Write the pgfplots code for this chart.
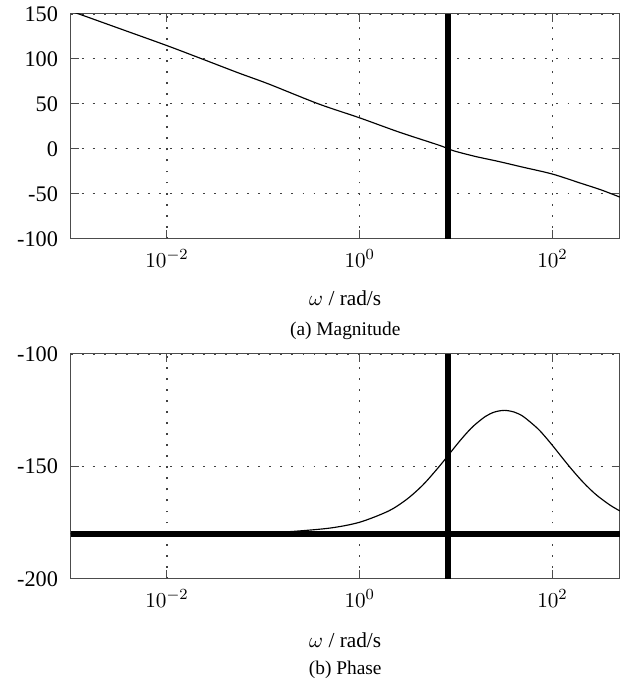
\documentclass[border={5.5pt 0pt 6pt 0pt}]{standalone}
\usepackage{fontspec}
\setmainfont{Liberation Serif}
\usepackage{pgfplots}
\pgfplotsset{compat=1.18}

\begin{document}
\begin{tikzpicture}
\begin{axis}[name=mag, at={(0,0)},
    xmode=log,
    scale only axis,
    width=283.5pt, height=116pt,
    xmin=1e-3, xmax=500,
    ymin=-100, ymax=150,
    xtick={0.01,1,100},
    minor xtick={},
    ytick={-100,-50,0,50,100,150},
    yticklabels={-100,-50,0,50,100,150},
    xmajorgrids=true, ymajorgrids=true,
    major grid style={black!75, line width=0.55pt, dash pattern=on 1pt off 4.7pt},
    axis line style={black!70, line width=0.5pt},
    tick style={black!70, line width=0.5pt},
    xticklabel style={font=\fontsize{11}{13}\selectfont, yshift=-2pt},
    yticklabel style={font=\fontsize{11.5}{13}\selectfont, xshift=-3pt},
    xlabel={$\omega$ / rad/s},
    xlabel style={font=\fontsize{11}{13}\selectfont, anchor=center, at={(axis description cs:0.5,-0.264)}}]
\addplot[black, line width=0.6pt, smooth] coordinates {
 (0.001,153) (0.00122,150) (0.00316,134.1) (0.01,114.8) (0.0231,100)
 (0.0553,84.4) (0.113,72.2) (0.373,50) (1,34.4) (2.56,18.6) (6.61,4.1)
 (8.28,0) (10,-3) (15.85,-8.5) (27.4,-14) (50.1,-20.6) (100,-28.1)
 (199.5,-38.5) (316,-45.5) (500,-53.7)};
\addplot[black, line width=3pt] coordinates {(8.3,-100) (8.3,150)};
\end{axis}
\node[font=\fontsize{10}{12}\selectfont] at ([yshift=-47.5pt]mag.south) {(a) Magnitude};

\begin{axis}[name=pha, at={(0,-175.5pt)},
    xmode=log,
    scale only axis,
    width=283.5pt, height=116pt,
    xmin=1e-3, xmax=500,
    ymin=-200, ymax=-100,
    xtick={0.01,1,100},
    minor xtick={},
    ytick={-200,-150,-100},
    yticklabels={-200,-150,-100},
    xmajorgrids=true, ymajorgrids=true,
    major grid style={black!75, line width=0.55pt, dash pattern=on 1pt off 4.7pt},
    axis line style={black!70, line width=0.5pt},
    tick style={black!70, line width=0.5pt},
    xticklabel style={font=\fontsize{11}{13}\selectfont, yshift=-2pt},
    yticklabel style={font=\fontsize{11.5}{13}\selectfont, xshift=-3pt},
    xlabel={$\omega$ / rad/s},
    xlabel style={font=\fontsize{11}{13}\selectfont, anchor=center, at={(axis description cs:0.5,-0.274)}}]
\addplot[black, line width=0.6pt, smooth] coordinates {
 (0.001,-180) (0.01,-179.95) (0.1,-179.48) (0.2,-178.97) (0.5,-177.42)
 (1,-174.86) (2,-169.84) (3,-165.02) (4,-160.49) (5,-156.30) (7,-149.01)
 (10,-140.71) (12,-136.65) (15,-132.22) (20,-127.88) (25,-125.84) (31.6,-125.1)
 (40,-125.84) (50,-127.88) (70,-133.12) (85,-137.07) (100,-140.71)
 (150,-150.12) (200,-156.29) (250,-160.49) (300,-163.48) (400,-167.39) (500,-169.84)};
\addplot[black, line width=3pt] coordinates {(0.001,-180) (500,-180)};
\addplot[black, line width=3pt] coordinates {(8.3,-200) (8.3,-100)};
\end{axis}
\node[font=\fontsize{10}{12}\selectfont] at ([yshift=-47pt]pha.south) {(b) Phase};
\end{tikzpicture}
\end{document}
